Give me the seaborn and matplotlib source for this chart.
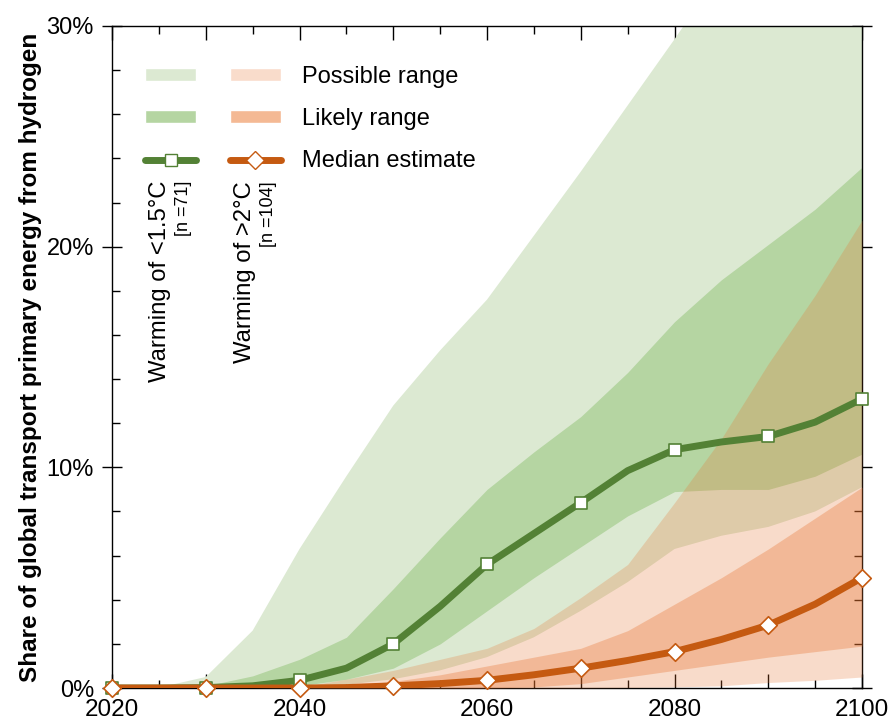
import pandas as pd
import matplotlib
matplotlib.use("Agg")
import matplotlib.pyplot as plt
import seaborn as sns
from matplotlib.patches import Patch
from matplotlib.lines import Line2D
from matplotlib.legend_handler import HandlerTuple
from matplotlib.ticker import MultipleLocator, FuncFormatter

# values (share in %, every 5 years)
years = list(range(2020, 2101, 5))

green_possible_low = [0, 0, 0, 0, 0, 0.15, 0.4, 0.8, 1.4, 2.3, 3.5, 4.8, 6.3, 6.9, 7.3, 8.0, 9.1]
green_possible_high = [0, 0.02, 0.5, 2.6, 6.3, 9.6, 12.8, 15.3, 17.6, 20.5, 23.4, 26.4, 29.4, 32.5, 35.5, 38.0, 41.0]
green_likely_low = [0, 0, 0, 0, 0.1, 0.4, 0.9, 2.0, 3.5, 5.0, 6.4, 7.8, 8.9, 9.0, 9.0, 9.6, 10.6]
green_likely_high = [0, 0, 0.1, 0.55, 1.3, 2.3, 4.5, 6.8, 9.0, 10.7, 12.3, 14.3, 16.6, 18.5, 20.1, 21.7, 23.6]
green_median = [0, 0, 0.02, 0.1, 0.35, 0.9, 2.0, 3.7, 5.6, 7.0, 8.4, 9.85, 10.8, 11.15, 11.4, 12.05, 13.1]

orange_possible_low = [0, 0, 0, 0, 0, 0, 0, 0, 0, 0, 0, 0.02, 0.05, 0.1, 0.25, 0.35, 0.5]
orange_possible_high = [0, 0, 0, 0, 0.05, 0.4, 0.8, 1.3, 1.8, 2.7, 4.1, 5.6, 8.4, 11.3, 14.7, 17.8, 21.2]
orange_likely_low = [0, 0, 0, 0, 0, 0, 0, 0, 0, 0.05, 0.2, 0.5, 0.8, 1.1, 1.4, 1.65, 1.9]
orange_likely_high = [0, 0, 0, 0, 0, 0.1, 0.3, 0.6, 1.0, 1.4, 1.8, 2.6, 3.8, 5.0, 6.3, 7.7, 9.1]
orange_median = [0, 0, 0, 0, 0, 0.02, 0.1, 0.2, 0.35, 0.6, 0.9, 1.25, 1.65, 2.2, 2.85, 3.8, 5.0]

legend_labels = ["Possible range", "Likely range", "Median estimate"]

green_dark = "#538135"
green_light = "#dce9d2"
green_mid = "#b5d5a2"
orange_dark = "#c55a11"
orange_base = "#e7732f"

df = pd.DataFrame({"year": years, "green": green_median, "orange": orange_median})
decades = df[df["year"] % 10 == 0]

sns.set_style("ticks")
plt.rcParams["font.family"] = ["Liberation Sans", "DejaVu Sans"]
plt.rcParams["text.color"] = "black"
plt.rcParams["axes.labelcolor"] = "black"
plt.rcParams["xtick.color"] = "black"
plt.rcParams["ytick.color"] = "black"

fig = plt.figure(figsize=(8.91, 7.28), dpi=100)
ax = fig.add_axes([0.1257, 0.0549, 0.8418, 0.9094])

# ranges
ax.fill_between(years, green_possible_low, green_possible_high, color=green_light, lw=0, zorder=1)
ax.fill_between(years, green_likely_low, green_likely_high, color=green_mid, lw=0, zorder=2)
ax.fill_between(years, orange_possible_low, orange_possible_high, color=orange_base, alpha=0.25, lw=0, zorder=3)
ax.fill_between(years, orange_likely_low, orange_likely_high, color=orange_base, alpha=0.33, lw=0, zorder=4)

# medians
sns.lineplot(data=df, x="year", y="green", color=green_dark, lw=5, ax=ax, zorder=6)
sns.lineplot(data=df, x="year", y="orange", color=orange_dark, lw=5, ax=ax, zorder=6)
sns.scatterplot(data=decades, x="year", y="green", marker="s", s=80, color="white",
                edgecolor=green_dark, linewidth=1.2, ax=ax, zorder=7, clip_on=False)
sns.scatterplot(data=decades, x="year", y="orange", marker="D", s=80, color="white",
                edgecolor=orange_dark, linewidth=1.2, ax=ax, zorder=8, clip_on=False)

ax.set_xlim(2020, 2100)
ax.set_ylim(0, 30)
ax.set_xlabel("")
ax.set_ylabel("Share of global transport primary energy from hydrogen",
              fontsize=17.5, fontweight="bold", labelpad=3)

ax.xaxis.set_major_locator(MultipleLocator(10))
ax.xaxis.set_minor_locator(MultipleLocator(5))
ax.xaxis.set_major_formatter(FuncFormatter(lambda v, p: f"{int(v)}" if int(v) % 20 == 0 else ""))
ax.yaxis.set_major_locator(MultipleLocator(10))
ax.yaxis.set_minor_locator(MultipleLocator(2))
ax.yaxis.set_major_formatter(FuncFormatter(lambda v, p: f"{int(v)}%"))
ax.tick_params(which="both", top=True, right=True, direction="in", color="black")
ax.tick_params(which="major", length=10, width=1, labelsize=17.5, pad=8)
ax.tick_params(which="minor", length=6, width=1)
ax.tick_params(axis="y", which="major", direction="inout", length=14, labelsize=17, pad=6)
for side in ax.spines.values():
    side.set_color("black")
    side.set_linewidth(1)

# legend
handles = [
    (Patch(facecolor=green_light), Patch(facecolor="#f9dccb")),
    (Patch(facecolor=green_mid), Patch(facecolor="#f4b994")),
    (Line2D([], [], color=green_dark, lw=5, marker="s", ms=9, mfc="white", mec=green_dark),
     Line2D([], [], color=orange_dark, lw=5, marker="D", ms=9, mfc="white", mec=orange_dark)),
]
ax.legend(handles, legend_labels, handler_map={tuple: HandlerTuple(ndivide=None, pad=1.4)},
          loc="upper left", bbox_to_anchor=(0.044, 0.9396), frameon=False, fontsize=17,
          handlelength=5.76, handleheight=0.5, handletextpad=0.9, labelspacing=0.85,
          borderpad=0, borderaxespad=0)

ax.text(0.064, 0.766, "Warming of <1.5°C", rotation=90, ha="center", va="top",
        fontsize=17.2, transform=ax.transAxes)
ax.text(0.095, 0.766, "[n =71]", rotation=90, ha="center", va="top",
        fontsize=13, transform=ax.transAxes)
ax.text(0.177, 0.766, "Warming of >2°C", rotation=90, ha="center", va="top",
        fontsize=17.2, transform=ax.transAxes)
ax.text(0.208, 0.766, "[n =104]", rotation=90, ha="center", va="top",
        fontsize=13, transform=ax.transAxes)

fig.savefig("out.png", dpi=100)
